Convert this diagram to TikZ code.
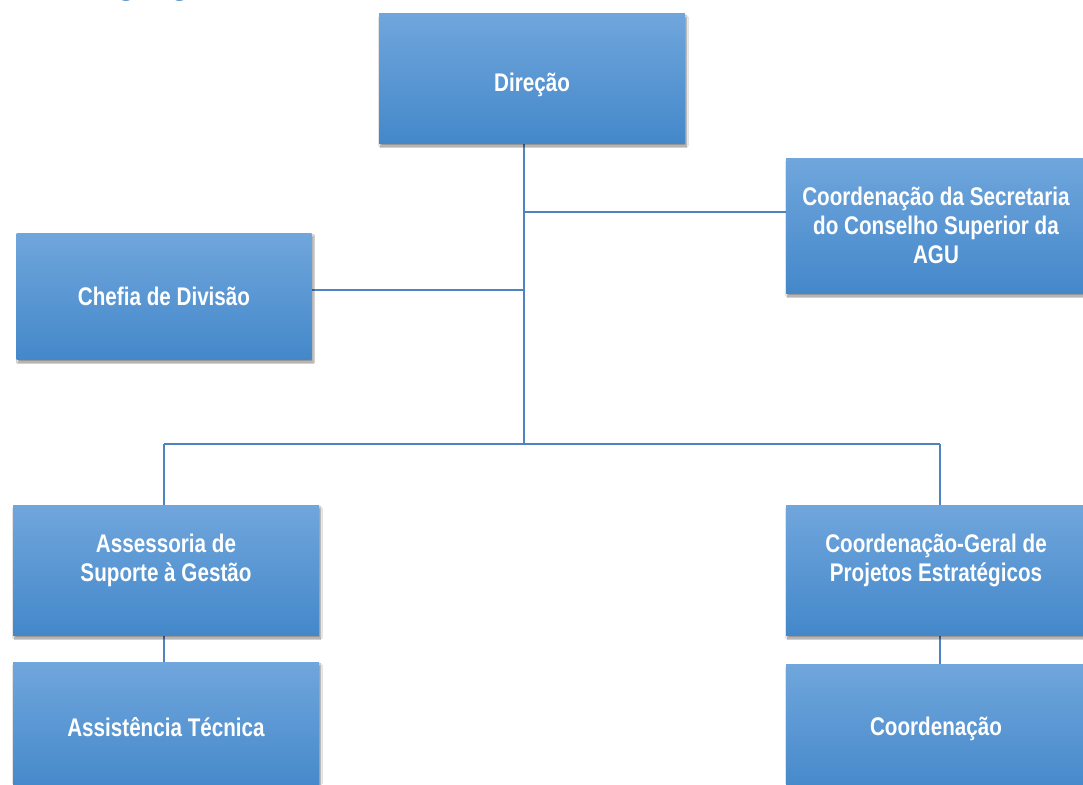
\documentclass[tikz,border=0pt]{standalone}
\usepackage{fontspec}
\newfontfamily\boxfont{Liberation Sans}[FakeStretch=0.81]
\newfontfamily\headfont{Liberation Serif}
\usetikzlibrary{shadows.blur,backgrounds}
\definecolor{boxtop}{RGB}{112,166,220}
\definecolor{boxmid}{RGB}{84,152,221}
\definecolor{boxbot}{RGB}{68,136,202}
\definecolor{linkblue}{RGB}{78,130,192}
\definecolor{headblue}{RGB}{46,116,181}
\begin{document}
\begin{tikzpicture}[x=1pt,y=-1pt,
  boxtext/.style={text=white, align=center,
    font=\boxfont\bfseries\fontsize{25.5}{29}\selectfont},
  unit/.style={rectangle, draw=none, inner sep=0pt,
    top color=boxtop, middle color=boxmid, bottom color=boxbot,
    blur shadow={shadow xshift=1.5pt, shadow yshift=-3pt, shadow opacity=45, shadow blur steps=6},
    boxtext},
  link/.style={draw=linkblue, line width=1.6pt}
]
\useasboundingbox (0,0) rectangle (1083,784);
\clip (0,0) rectangle (1083,784);

% heading above the chart (only its lower edge falls inside the page)
\node[font=\headfont\bfseries\fontsize{26}{30}\selectfont, text=headblue,
  anchor=base west, inner sep=0pt] (head) at (88,-4) {Organograma};

% organisational units
\node[unit, minimum width=306pt, minimum height=129pt,
  label={[name=dirT, boxtext, yshift=-6pt]center:Dire\c{c}\~ao}] (dir) at (532,78.5) {};
\node[unit, minimum width=300pt, minimum height=135pt] (csec) at (936,225.5)
  {Coordena\c{c}\~ao da Secretaria\\do Conselho Superior da\\AGU};
\node[unit, minimum width=295pt, minimum height=126pt] (chefia) at (164,296) {Chefia de Divis\~ao};
\node[unit, minimum width=306pt, minimum height=130pt,
  label={[name=assessT, boxtext, yshift=10pt]center:Assessoria de\\Suporte \`a Gest\~ao}]
  (assess) at (166,570) {};
\node[unit, minimum width=306pt, minimum height=130pt] (assist) at (166,727) {Assist\^encia T\'ecnica};
\node[unit, minimum width=300pt, minimum height=130pt,
  label={[name=cgpeT, boxtext, yshift=10pt]center:Coordena\c{c}\~ao-Geral de\\Projetos Estrat\'egicos}]
  (cgpe) at (936,570) {};
\node[unit, minimum width=300pt, minimum height=130pt] (coord) at (936,729) {Coordena\c{c}\~ao};

% junction points of the connector tree
\coordinate (jA) at (524,212);
\coordinate (jB) at (524,290);
\coordinate (jC) at (524,444);
\coordinate (jL) at (164,444);
\coordinate (jR) at (940,444);

\begin{scope}[on background layer]
  \fill[white] (0,0) rectangle (1083,784);
  \draw[link] (dir.south -| jC) -- (jC);
  \draw[link] (jA) -- (jA -| csec.west);
  \draw[link] (chefia.east |- jB) -- (jB);
  \draw[link] (jL) -- (jR);
  \draw[link] (jL) -- (jL |- assess.north);
  \draw[link] (jR) -- (jR |- cgpe.north);
  \draw[link] (assess.south -| jL) -- (assist.north -| jL);
  \draw[link] (cgpe.south -| jR) -- (coord.north -| jR);
\end{scope}
\end{tikzpicture}
\end{document}
